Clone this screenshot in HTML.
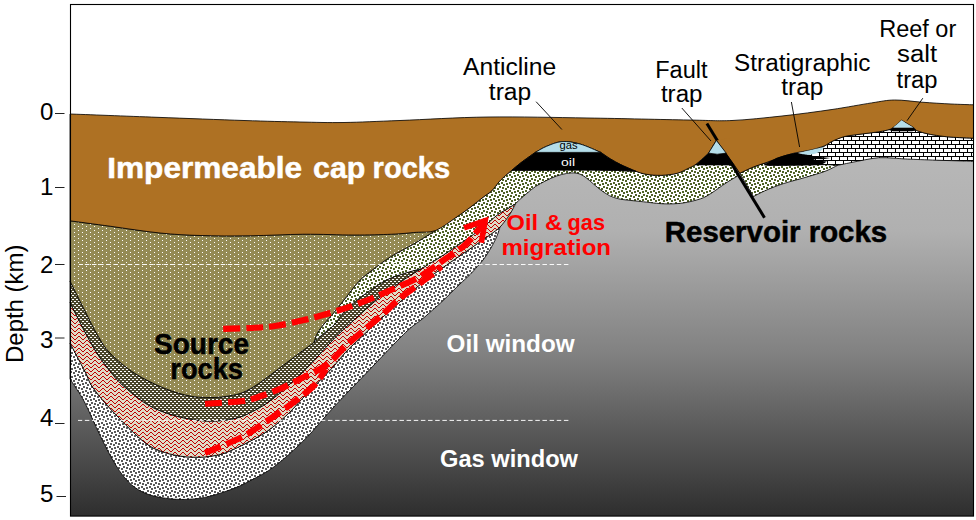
<!DOCTYPE html>
<html lang="en">
<head>
<meta charset="utf-8">
<title>Petroleum system cross-section</title>
<style>
html,body{margin:0;padding:0;background:#fff;}
body{width:976px;height:520px;overflow:hidden;}
svg{display:block;}
text{font-family:"Liberation Sans",sans-serif;}
.lbl{font-size:23px;fill:#000;}
.dg{font-size:23.4px;}
.b{font-weight:bold;}
.ol{stroke:#000;stroke-width:0.8;stroke-linejoin:round;}
</style>
</head>
<body>
<svg width="976" height="520" viewBox="0 0 976 520">
<defs>
<linearGradient id="gg" gradientUnits="userSpaceOnUse" x1="0" y1="110" x2="0" y2="516">
<stop offset="0" stop-color="#bcbcbc"/>
<stop offset="0.3" stop-color="#b0b0b0"/>
<stop offset="0.6" stop-color="#818181"/>
<stop offset="1" stop-color="#2e2e2e"/>
</linearGradient>
<pattern id="pdk" width="8" height="8" patternUnits="userSpaceOnUse" patternTransform="translate(0 1)"><rect width="8" height="8" fill="#fff"/><g fill="#595959" shape-rendering="crispEdges"><rect x="-1.00" y="-1.00" width="2.00" height="2.00"/><rect x="-1.00" y="7.00" width="2.00" height="2.00"/><rect x="7.00" y="-1.00" width="2.00" height="2.00"/><rect x="7.00" y="7.00" width="2.00" height="2.00"/><rect x="3.00" y="1.00" width="2.00" height="2.00"/><rect x="6.00" y="2.00" width="2.00" height="2.00"/><rect x="1.00" y="3.00" width="2.00" height="2.00"/><rect x="5.00" y="5.00" width="2.00" height="2.00"/><rect x="2.00" y="6.00" width="2.00" height="2.00"/></g></pattern>
<pattern id="pgr" width="8" height="8" patternUnits="userSpaceOnUse" patternTransform="translate(0 1)"><rect width="8" height="8" fill="#fff"/><g fill="#4f6228" shape-rendering="crispEdges"><rect x="-1.00" y="-1.00" width="2.00" height="2.00"/><rect x="-1.00" y="7.00" width="2.00" height="2.00"/><rect x="7.00" y="-1.00" width="2.00" height="2.00"/><rect x="7.00" y="7.00" width="2.00" height="2.00"/><rect x="3.00" y="1.00" width="2.00" height="2.00"/><rect x="6.00" y="2.00" width="2.00" height="2.00"/><rect x="1.00" y="3.00" width="2.00" height="2.00"/><rect x="5.00" y="5.00" width="2.00" height="2.00"/><rect x="2.00" y="6.00" width="2.00" height="2.00"/></g></pattern>
<!-- olive with white dots -->
<pattern id="pol" width="8" height="4" patternUnits="userSpaceOnUse" shape-rendering="crispEdges">
<rect width="8" height="4" fill="#948a54"/>
<rect x="2" y="0" width="1" height="1" fill="#fff"/><rect x="6" y="2" width="1" height="1" fill="#fff"/>
</pattern>
<!-- dark olive with white dashes -->
<pattern id="pdo" width="4" height="4" patternUnits="userSpaceOnUse" shape-rendering="crispEdges">
<rect width="4" height="4" fill="#4a452a"/>
<rect x="2" y="1" width="2" height="1" fill="#fff"/><rect x="0" y="3" width="2" height="1" fill="#fff"/>
</pattern>
<!-- red zigzag on tan -->
<pattern id="pzz" width="8" height="4" patternUnits="userSpaceOnUse" shape-rendering="crispEdges">
<rect width="8" height="4" fill="#dfdcc7"/>
<g fill="#c00000"><rect x="6" y="0" width="2" height="1"/><rect x="0" y="1" width="1" height="1"/><rect x="5" y="1" width="1" height="1"/><rect x="1" y="2" width="1" height="1"/><rect x="4" y="2" width="1" height="1"/><rect x="2" y="3" width="2" height="1"/></g>
</pattern>
<!-- brick -->
<pattern id="pbr" width="8" height="8" patternUnits="userSpaceOnUse" shape-rendering="crispEdges">
<rect width="8" height="8" fill="#fff"/>
<g fill="#000"><rect x="0" y="0" width="8" height="1"/><rect x="0" y="4" width="8" height="1"/><rect x="3" y="1" width="1" height="3"/><rect x="7" y="5" width="1" height="3"/></g>
</pattern>
</defs>

<rect x="0" y="0" width="976" height="520" fill="#fff"/>
<!-- ground gradient -->
<path d="M70 114C84.5 114.5 128 116.2 157 117.3C186 118.4 220.2 119.7 244 120.5C267.8 121.3 283.3 121.7 300 122C316.7 122.3 327.3 122.8 344 122.5C360.7 122.2 376 121.4 400 120.5C424 119.6 456.7 117.4 488 117C519.3 116.6 554.7 117.5 588 118C621.3 118.5 664 119.6 688 120C712 120.4 716.3 121.2 732 120.5C747.7 119.8 765.3 117.8 782 116C798.7 114.2 817.1 111.7 832 109.5C846.9 107.3 861.1 104.5 871.6 102.9C882.1 101.3 886.3 100.1 894.7 100C903.1 99.9 912.6 101.5 922 102.2C931.4 102.9 942.4 103.6 951 104C959.6 104.4 969.8 104.7 973.5 104.8L973.5 516.1L70 516.1Z" fill="url(#gg)"/>
<!-- basin layers -->
<path class="ol" d="M70 379C71 380.5 73.5 384 76 388C78.5 392 81.4 396 85 403C88.6 410 93.3 421.3 97.5 430C101.7 438.7 105.8 447.5 110 455C114.2 462.5 118.3 469.6 122.5 475C126.7 480.4 130.4 484.2 135 487.5C139.6 490.8 144.2 493.1 150 495C155.8 496.9 163.3 498 170 498.8C176.7 499.5 183.3 499.7 190 499.2C196.7 498.8 202.5 498.1 210 496.2C217.5 494.4 228.3 490.6 235 488C241.7 485.4 244.3 483.8 250 480.8C255.7 477.8 262.8 474.5 269.2 470.2C275.6 465.9 282.1 460.4 288.5 454.8C294.9 449.2 301.9 442.4 307.7 436.5C313.4 430.6 317.6 425.3 323 419.2C328.4 413.1 333.7 407.1 340.4 400C347.1 392.9 356.1 383.8 363.1 376.5C370.1 369.2 376.2 362.7 382.3 356.3C388.4 349.9 395.2 342.8 400 338C404.8 333.2 407.3 330.7 411 327.5C414.7 324.3 417.9 322.7 422.3 319C426.8 315.3 433.5 309.2 437.7 305.5C441.9 301.8 443.6 300.1 447.3 296.5C451 292.9 456.1 287.7 460 284C463.9 280.3 467.5 277.1 470.4 274.2C473.2 271.3 475.1 269.1 477.1 266.8C479.1 264.6 480.7 263 482.5 260.7C484.3 258.4 486.1 255.8 487.9 253C489.7 250.2 491.6 246.9 493.2 243.9C494.8 240.9 496.2 238 497.3 235.2C498.4 232.4 499.6 228.4 500 227.1L500 227.1C498.4 228.3 494.3 231.7 490.5 234.5C486.7 237.3 481.6 240.8 477.1 243.9C472.6 247 468.1 250.2 463.6 253.3C459.1 256.4 454.7 259.4 450.2 262.5C445.7 265.6 440.4 269.4 436.7 272C433 274.6 431 275.9 428 278.2C425 280.5 421.7 283.3 418.5 285.9C415.3 288.5 412 291.2 408.8 294C405.6 296.8 402.4 299.9 399.2 302.7C396 305.5 393.4 307.6 389.6 311C385.8 314.4 381 318.7 376.2 323.1C371.4 327.5 365.9 332.6 360.8 337.5C355.7 342.4 350 347.6 345.4 352.5C340.8 357.4 337.6 361.9 333 367C328.4 372.1 322.8 377.5 317.5 383C312.2 388.5 305.8 394.9 301 400C296.2 405.1 293.8 408.5 288.5 413.5C283.2 418.5 275.6 425.2 269.2 429.8C262.8 434.4 257.4 437.4 250 441.3C242.6 445.2 231.7 450.5 225 453C218.3 455.5 214.3 455.6 210 456.3C205.7 457 203 457.1 199.2 457.2C195.3 457.3 191 457.2 186.9 456.9C182.8 456.5 178.7 456 174.6 455.1C170.5 454.2 166.4 453.2 162.3 451.7C158.2 450.2 154.6 449.1 150 446.2C145.4 443.2 141.7 440.3 135 434C128.3 427.7 117.1 416.3 110 408.5C102.9 400.7 96.7 393.2 92.5 387C88.3 380.8 88.8 378.8 85 371.5C81.2 364.2 72.5 347.8 70 343Z" fill="url(#pdk)"/>
<path class="ol" d="M70 343C72.5 347.8 81.2 364.2 85 371.5C88.8 378.8 88.3 380.8 92.5 387C96.7 393.2 102.9 400.7 110 408.5C117.1 416.3 128.3 427.7 135 434C141.7 440.3 145.4 443.2 150 446.2C154.6 449.1 158.2 450.2 162.3 451.7C166.4 453.2 170.5 454.2 174.6 455.1C178.7 456 182.8 456.5 186.9 456.9C191 457.2 195.3 457.3 199.2 457.2C203 457.1 205.7 457 210 456.3C214.3 455.6 218.3 455.5 225 453C231.7 450.5 242.6 445.2 250 441.3C257.4 437.4 262.8 434.4 269.2 429.8C275.6 425.2 283.2 418.5 288.5 413.5C293.8 408.5 296.2 405.1 301 400C305.8 394.9 312.2 388.5 317.5 383C322.8 377.5 328.4 372.1 333 367C337.6 361.9 340.8 357.4 345.4 352.5C350 347.6 355.7 342.4 360.8 337.5C365.9 332.6 371.4 327.5 376.2 323.1C381 318.7 385.8 314.4 389.6 311C393.4 307.6 396 305.5 399.2 302.7C402.4 299.9 405.6 296.8 408.8 294C412 291.2 415.3 288.5 418.5 285.9C421.7 283.3 425 280.5 428 278.2C431 275.9 433 274.6 436.7 272C440.4 269.4 445.7 265.6 450.2 262.5C454.7 259.4 459.1 256.4 463.6 253.3C468.1 250.2 472.6 247 477.1 243.9C481.6 240.8 486.7 237.3 490.5 234.5C494.3 231.7 496.9 230.3 500 227.1C503.1 223.8 506.8 218.8 509.4 215C511.9 211.2 514.3 206.2 515.3 204.4L515.3 203.9C514 204.7 510.4 206.9 507.3 208.8C504.2 210.7 501.3 211.9 497 215.2C492.7 218.5 486.9 224.3 481.5 228.5C476.1 232.7 471 236.1 464.6 240.5C458.2 244.9 450.6 250.3 443.4 255C436.2 259.7 425.1 266.3 421.5 268.6L421.5 268.6C419.4 269.9 412.5 273.9 408.8 276.3C405.1 278.7 404 279.6 399.2 283C394.4 286.4 387.4 291 380 297C372.6 303 362.5 312.2 355 319C347.5 325.8 341.4 331.1 335 337.5C328.6 343.9 323.1 350.7 316.9 357.3C310.7 363.9 302.2 372.6 297.7 377C293.2 381.4 293.4 380.8 290 383.8C286.6 386.8 281.7 391.6 277.5 395C273.3 398.4 269.2 401.6 265 404.4C260.8 407.1 256.7 409.4 252.5 411.5C248.3 413.6 245 415.5 240 417C235 418.5 229.2 419.9 222.5 420.5C215.8 421.1 208.3 421.4 200 420.5C191.7 419.6 181.2 417.7 172.5 415C163.8 412.3 155.8 409.5 147.5 404.5C139.2 399.5 128.8 390.6 122.5 385C116.2 379.4 114.2 376.2 110 371C105.8 365.8 101.7 360.5 97.5 354C93.3 347.5 89.6 340.6 85 332C80.4 323.4 72.5 307.4 70 302.5Z" fill="url(#pzz)"/>
<path class="ol" d="M70 302.5C72.5 307.4 80.4 323.4 85 332C89.6 340.6 93.3 347.5 97.5 354C101.7 360.5 105.8 365.8 110 371C114.2 376.2 116.2 379.4 122.5 385C128.8 390.6 139.2 399.5 147.5 404.5C155.8 409.5 163.8 412.3 172.5 415C181.2 417.7 191.7 419.6 200 420.5C208.3 421.4 215.8 421.1 222.5 420.5C229.2 419.9 235 418.5 240 417C245 415.5 248.3 413.6 252.5 411.5C256.7 409.4 260.8 407.1 265 404.4C269.2 401.6 273.3 398.4 277.5 395C281.7 391.6 286.6 386.8 290 383.8C293.4 380.8 293.2 381.4 297.7 377C302.2 372.6 310.7 363.9 316.9 357.3C323.1 350.7 328.6 343.9 335 337.5C341.4 331.1 347.5 325.8 355 319C362.5 312.2 372.6 303 380 297C387.4 291 394.4 286.4 399.2 283C404 279.6 405.1 278.7 408.8 276.3C412.5 273.9 419.4 269.9 421.5 268.6L421.5 268.6C418.6 269.4 409.8 271.6 404 273.5C398.2 275.4 392.3 277 386.5 280C380.7 283 374.4 287.5 369 291.2C363.6 295 358.6 298.5 354 302.5C349.4 306.5 344.8 311.2 341.5 315C338.2 318.8 337.2 321.8 334 325C330.8 328.2 325.9 331.6 322.5 334.5C319.1 337.4 315.2 341.2 313.8 342.5L313.8 342.5C311.1 344.5 303.6 350 297.7 354.4C291.8 358.8 283.9 364.7 278.5 368.8C273.1 372.9 269.3 375.9 265 379C260.7 382.1 256.7 385.1 252.5 387.5C248.3 389.9 244.6 392 240 393.5C235.4 395 230 395.8 225 396.5C220 397.2 215.8 397.6 210 397.5C204.2 397.4 197.5 397.5 190 396C182.5 394.5 174.2 392.2 165 388.5C155.8 384.8 144.2 379.4 135 373.5C125.8 367.6 116.2 359.4 110 353C103.8 346.6 101.7 342 97.5 335C93.3 328 89.6 320 85 311C80.4 302 72.5 286 70 281Z" fill="url(#pdo)"/>
<path class="ol" d="M313.8 342.5C315.2 341.2 319.1 337.4 322.5 334.5C325.9 331.6 330.8 328.2 334 325C337.2 321.8 338.2 318.8 341.5 315C344.8 311.2 349.4 306.5 354 302.5C358.6 298.5 363.6 295 369 291.2C374.4 287.5 380.7 283 386.5 280C392.3 277 398.2 275.4 404 273.5C409.8 271.6 418.6 269.4 421.5 268.6L421.5 268.6C425.1 266.3 436.2 259.7 443.4 255C450.6 250.3 458.2 244.9 464.6 240.5C471 236.1 476.1 232.7 481.5 228.5C486.9 224.3 492.7 218.5 497 215.2C501.3 211.9 504.2 210.7 507.3 208.8C510.4 206.9 514 204.7 515.3 203.9L515.3 203.9C516 203.2 517.8 201.3 519.8 199.5C521.8 197.7 524.5 195.4 527.1 193.2C529.8 191 532.6 188.4 535.7 186.4C538.8 184.4 542.1 182.6 545.6 180.9C549.1 179.2 553.1 177.2 556.6 176C560.1 174.8 563.6 174 566.5 173.5C569.4 173 571.6 172.8 573.9 172.9C576.1 173 578 173.3 580 174.1C582 174.9 584 176.2 586.2 177.8C588.5 179.5 591 181.9 593.5 184C596 186.1 598.2 188.2 600.9 190.1C603.6 192 606.6 194.3 609.5 195.7C612.4 197.1 615.3 198 618.1 198.7C620.9 199.4 623.2 199.6 626.5 200C629.8 200.4 631.9 200.6 638 201.2C644.1 201.8 655.5 203.4 663 203.8C670.5 204.1 676.8 203.8 683 203C689.2 202.2 695.8 200.3 700.5 198.8C705.2 197.2 706.8 196 711 193.4C715.2 190.8 721.6 185.9 726 183C730.4 180.1 735.4 177.3 737.3 176.2L734.1 165L695 164.9L695 164.9C693.8 165.5 691 167.1 688 168.5C685 169.9 681.5 172.2 677.1 173.3C672.7 174.4 666.8 175.1 661.7 175.3C656.6 175.5 650.7 175 646.4 174.3C642.1 173.6 637.8 171.8 636.1 171.3L636.1 171.3C631.8 171.1 619.8 170.5 610 170.3C600.2 170.1 588.3 170 577.5 170C566.7 170 556 170.1 545 170.2C534 170.2 517.3 170.3 511.8 170.3L511.8 170.3C510.8 171.2 507.7 173.6 505.6 175.5C503.5 177.4 501.6 179.1 499.2 181.7C496.8 184.3 494.1 188.5 491.5 191C488.9 193.5 487.3 194 483.8 196.7C480.3 199.4 474.9 203.8 470.4 207.2C465.9 210.5 462.7 212.9 456.9 216.8C451.1 220.7 439.3 228.1 435.8 230.4L435.8 230.4C432.2 232.6 421.4 239.4 414 243.8C406.6 248.1 398.2 252.1 391.5 256.2C384.8 260.4 379.4 264.6 374 268.8C368.6 272.9 364 276 359 281.2C354 286.5 348.2 294.8 344 300C339.8 305.2 337.3 308.5 334 312.5C330.7 316.5 326.8 320.6 324 324C321.2 327.4 319.2 329.9 317.5 333C315.8 336.1 314.4 340.9 313.8 342.5Z" fill="url(#pgr)"/>
<path class="ol" d="M753.5 196.5C755.6 195.4 761.2 192.4 766.2 190.2C771.2 188 777.3 185.6 783.8 183.5C790.3 181.4 798.3 179.5 805 177.5C811.7 175.5 818.5 173.7 824 171.7C829.5 169.7 835.4 166.4 837.7 165.3L837.7 165.3C835.8 165.1 832.3 164.4 826 164.3C819.7 164.2 809.3 164.8 800 165C790.7 165.2 776 165.7 770 165.5C764 165.3 765 164 764 163.7L766.2 162.6C764.1 163.3 757.9 165.1 753.5 166.9C749.1 168.7 742.1 172.1 739.8 173.2L739.8 173.2Z" fill="url(#pgr)"/>
<path class="ol" d="M70 281C72.5 286 80.4 302 85 311C89.6 320 93.3 328 97.5 335C101.7 342 103.8 346.6 110 353C116.2 359.4 125.8 367.6 135 373.5C144.2 379.4 155.8 384.8 165 388.5C174.2 392.2 182.5 394.5 190 396C197.5 397.5 204.2 397.4 210 397.5C215.8 397.6 220 397.2 225 396.5C230 395.8 235.4 395 240 393.5C244.6 392 248.3 389.9 252.5 387.5C256.7 385.1 260.7 382.1 265 379C269.3 375.9 273.1 372.9 278.5 368.8C283.9 364.7 291.8 358.8 297.7 354.4C303.6 350 311.1 344.5 313.8 342.5L313.8 342.5C314.4 340.9 315.8 336.1 317.5 333C319.2 329.9 321.2 327.4 324 324C326.8 320.6 330.7 316.5 334 312.5C337.3 308.5 339.8 305.2 344 300C348.2 294.8 354 286.5 359 281.2C364 276 368.6 272.9 374 268.8C379.4 264.6 384.8 260.4 391.5 256.2C398.2 252.1 406.6 248.1 414 243.8C421.4 239.4 432.2 232.6 435.8 230.4L435.8 230.4C432.6 230.7 423.9 231.7 416.5 232.3C409.1 232.9 401.9 233.8 391.5 234.2C381.1 234.7 368.6 235 354 235C339.4 235 321.3 234.1 304 234.2C286.7 234.4 267.3 235.5 250 235.8C232.7 236 215 236 200 235.5C185 235 175 234.5 160 233C145 231.5 125 228.3 110 226.2C95 224.2 76.7 221.7 70 220.8Z" fill="url(#pol)"/>
<path class="ol" d="M822.9 147.2C824.4 146.2 828.5 143.2 832 141.4C835.5 139.7 839.8 137.8 844 136.7C848.2 135.6 851.2 135.4 857 134.6C862.8 133.8 873.5 132.6 878.8 131.8C884.1 131 887.3 130 889 129.6L902 129L916.3 130.3C917.8 130.8 921.6 132.3 925 133.2C928.4 134 932.2 134.8 936.5 135.4C940.8 136.1 944.8 136.6 951 137.1C957.2 137.6 969.8 138 973.5 138.2L973.5 161.3C967.3 161.1 947.5 160.6 936.5 160.2C925.5 159.8 914.9 159.4 907.7 159.1C900.5 158.8 898 158.3 893.2 158.1C888.4 157.9 883.6 157.4 878.8 157.7C874 158 869.2 159.1 864.4 159.9C859.6 160.8 854.5 161.9 850 162.8C845.5 163.7 839.8 164.9 837.7 165.3L826 164.6L808 165L806 152Z" fill="url(#pbr)"/>
<!-- cap rock -->
<path class="ol" d="M70 114C84.5 114.5 128 116.2 157 117.3C186 118.4 220.2 119.7 244 120.5C267.8 121.3 283.3 121.7 300 122C316.7 122.3 327.3 122.8 344 122.5C360.7 122.2 376 121.4 400 120.5C424 119.6 456.7 117.4 488 117C519.3 116.6 554.7 117.5 588 118C621.3 118.5 664 119.6 688 120C712 120.4 716.3 121.2 732 120.5C747.7 119.8 765.3 117.8 782 116C798.7 114.2 817.1 111.7 832 109.5C846.9 107.3 861.1 104.5 871.6 102.9C882.1 101.3 886.3 100.1 894.7 100C903.1 99.9 912.6 101.5 922 102.2C931.4 102.9 942.4 103.6 951 104C959.6 104.4 969.8 104.7 973.5 104.8L973.5 138.2C969.8 138 957.2 137.6 951 137.1C944.8 136.6 940.8 136.1 936.5 135.4C932.2 134.8 928.4 134 925 133.2C921.6 132.3 918.2 131.3 916.3 130.3C914.4 129.3 915.8 129.1 913.4 127.4C911 125.7 903.6 121.4 901.6 120.2L901.6 120.2C900.2 121.4 895.3 125.8 893.2 127.4C891.1 129 891.4 128.9 889 129.6C886.6 130.3 884.1 131 878.8 131.8C873.5 132.6 862.8 133.8 857 134.6C851.2 135.4 848.2 135.6 844 136.7C839.8 137.8 835.3 139.8 832 141.4C828.7 143 827.5 144.6 824 146C820.5 147.4 815.6 148.8 810.7 150C805.8 151.2 799.7 151.8 794.6 153C789.5 154.2 784.7 155.8 780 157.4C775.3 159 770.6 161 766.2 162.6C761.8 164.2 757.9 165.1 753.5 166.9C749.1 168.7 742.1 172.1 739.8 173.2L716.4 140.4C715.8 141.4 713.8 144.5 712.5 146.6C711.2 148.7 710.3 151 708.5 153.1C706.7 155.2 704 157.4 701.7 159.4C699.5 161.4 697.3 163.4 695 164.9C692.7 166.4 691 167.1 688 168.5C685 169.9 681.5 172.2 677.1 173.3C672.7 174.4 666.8 175.1 661.7 175.3C656.6 175.5 650.7 175 646.4 174.3C642.1 173.6 638.7 172.2 636.1 171.3C633.5 170.5 633.6 170.3 631 169.2C628.4 168.1 624.1 166.3 620.7 164.6C617.3 162.9 613.8 161 610.5 159C607.2 157 602.4 153.5 600.8 152.4L600.8 152.4C597.3 151 586.5 145.8 580 144C573.5 142.2 567.6 141.2 562 141.6C556.4 142 551.1 144.5 546.6 146.3C542.1 148.1 537.2 151.4 535.3 152.4L535.3 152.4C532.9 154.1 524.9 159.7 521 162.7C517.1 165.7 514.4 168.2 511.8 170.3C509.2 172.4 507.7 173.6 505.6 175.5C503.5 177.4 501.6 179.1 499.2 181.7C496.8 184.3 494.1 188.5 491.5 191C488.9 193.5 487.3 194 483.8 196.7C480.3 199.4 474.9 203.8 470.4 207.2C465.9 210.5 462.7 212.9 456.9 216.8C451.1 220.7 442.5 227.8 435.8 230.4C429.1 233 423.9 231.7 416.5 232.3C409.1 232.9 401.9 233.8 391.5 234.2C381.1 234.7 368.6 235 354 235C339.4 235 321.3 234.1 304 234.2C286.7 234.4 267.3 235.5 250 235.8C232.7 236 215 236 200 235.5C185 235 175 234.5 160 233C145 231.5 125 228.3 110 226.2C95 224.2 76.7 221.7 70 220.8Z" fill="#ae7123"/>
<!-- fault -->
<line x1="706.9" y1="123.5" x2="764.5" y2="217.7" stroke="#000" stroke-width="3"/>
<path d="M716.4 140.4L734.3 165L739.8 173.2L739.8 173.2C742.1 172.1 749.1 168.7 753.5 166.9C757.9 165.1 761.8 164.2 766.2 162.6C770.6 161 777.7 158.3 780 157.4L780 138L730 138Z" fill="#ae7123"/>
<path d="M716.4 140.4L734.3 165L739.8 173.2C742.1 172.1 749.1 168.7 753.5 166.9C757.9 165.1 761.8 164.2 766.2 162.6C770.6 161 777.7 158.3 780 157.4" fill="none" class="ol"/>
<!-- traps -->
<path class="ol" d="M511.8 170.3C513.3 169 517.1 165.7 521 162.7C524.9 159.7 532.9 154.1 535.3 152.4L600.8 152.4C602.4 153.5 607.2 157 610.5 159C613.8 161 617.3 162.9 620.7 164.6C624.1 166.3 628.4 168.1 631 169.2C633.6 170.3 635.2 171 636.1 171.3L636.1 171.3C631.8 171.1 619.8 170.5 610 170.3C600.2 170.1 588.3 170 577.5 170C566.7 170 556 170.1 545 170.2C534 170.2 517.3 170.3 511.8 170.3Z" fill="#000"/>
<path class="ol" d="M535.3 152.4C537.2 151.4 542.1 148.1 546.6 146.3C551.1 144.5 556.4 142 562 141.6C567.6 141.2 573.5 142.2 580 144C586.5 145.8 597.3 151 600.8 152.4Z" fill="#b4dde9"/>
<path d="M695 165.1C696.1 164.2 699.5 161.4 701.7 159.4C704 157.4 707.4 154.2 708.5 153.1L717 154.3L726.2 153.1L734.3 165.1Z" fill="#000"/>
<path class="ol" d="M716.4 140.4L708.5 153.1Q717 155.4 726.2 153.1Z" fill="#b4dde9"/>
<path d="M763.6 164.9C765.4 163.9 771 160.5 774.4 158.9C777.8 157.3 780.4 156.6 783.8 155.6C787.2 154.6 791.9 153.5 794.6 153.1C797.3 152.7 799.1 153.3 800 153.4L810.8 154.9C811.2 155.1 813 156 813.4 156.2L830.3 158L822.9 159.2L813.4 159L816 160.3L826.9 161.6L824.2 163.2L821.5 164.6L810.8 165.2C806.3 165.3 791.7 165.6 783.8 165.6C775.9 165.6 767 165.4 763.6 165.3Z" fill="#000"/>
<path d="M798.6 153.1C800.6 152.6 806.7 151 810.7 150C814.8 149 820.9 147.7 822.9 147.2L823.2 148.8C822.5 149.4 820.9 151.2 818.8 152.2C816.7 153.2 813.5 154.3 810.8 154.6C808.1 154.9 804.7 154.4 802.7 154.2C800.7 153.9 799.3 153.3 798.6 153.1Z" fill="#b4dde9"/>
<path d="M893.2 127.4L889 129.9L893 131.2L912 131.2L916.3 130.3L913.4 127.4Z" fill="#000"/>
<path d="M901.6 120.2Q897 124.5 893.2 127.4L913.4 127.4Q906.5 124 901.6 120.2Z" fill="#b4dde9"/>

<!-- depth window dashed lines -->
<line x1="568.4" y1="264.5" x2="79" y2="264.5" stroke="#fff" stroke-width="0.95" stroke-dasharray="4.5 2.65"/>
<line x1="568.4" y1="420.4" x2="78" y2="420.4" stroke="#fff" stroke-width="0.95" stroke-dasharray="4.5 2.65"/>

<!-- migration arrows -->
<g fill="none" stroke="#ff0000" stroke-width="6.2">
<path d="M223.2 328.8C227.7 328.6 241.4 328.5 250 328C258.6 327.5 266 327.3 275 326C284 324.7 294.8 322.2 304 320C313.2 317.8 322.5 315.2 330 313C337.5 310.8 342.3 309.3 349.2 306.9C356.1 304.5 364.4 301.4 371.5 298.5C378.6 295.6 384.8 292.6 392 289.5C399.2 286.4 408.3 282.9 414.6 279.6C420.9 276.4 425.2 273.2 430 270C434.8 266.8 437.6 264.3 443.4 260.2C449.2 256.1 458.7 250.6 464.6 245.4C470.5 240.2 475.6 233.1 479 229C482.4 224.9 484.2 222.1 485.2 220.7" stroke-dasharray="17 6"/>
<path d="M205 403.8C211.3 403.3 233.7 402.3 243 401C252.3 399.7 254.3 398.2 261 396C267.7 393.8 275.8 390.7 283 387.5C290.2 384.3 297.8 380.1 304 377C310.2 373.9 315.4 371.7 320 369C324.6 366.3 327.3 364.6 331.5 360.8C335.7 357 340.1 351.2 345.4 346.2C350.7 341.2 357.1 335.9 363.1 330.8C369.1 325.7 375.5 320.7 381.5 315.4C387.5 310.1 393 304.2 399.2 299C405.4 293.8 412.7 288.8 418.5 284.4C424.3 280 430.1 275.9 433.8 272.9C437.6 269.9 439.8 267.6 441 266.5" stroke-dasharray="17 6"/>
<path d="M205 453C210.8 450.5 231.5 442.1 240 438C248.5 433.9 249.9 432.4 256 428.5C262.1 424.6 269.7 419.2 276.4 414.5C283.1 409.8 289.6 405.4 296 400.5C302.4 395.6 309.5 390.2 314.5 385C319.5 379.8 324.1 371.7 326 369" stroke-dasharray="17 6"/>
<path d="M464 227.9L485.2 220.7L481.3 242.8" stroke-width="5.6" stroke-linejoin="miter" stroke-miterlimit="10"/>
</g>

<!-- frame -->
<rect x="70.5" y="4.5" width="903" height="511.6" fill="none" stroke="#000" stroke-width="1.1"/>

<!-- axis -->
<g stroke="#222" stroke-width="1">
<line x1="55" y1="113.5" x2="64.5" y2="113.5"/>
<line x1="55" y1="187.5" x2="64.5" y2="187.5"/>
<line x1="55" y1="264.5" x2="64.5" y2="264.5"/>
<line x1="55" y1="338" x2="64.5" y2="338"/>
<line x1="55" y1="423.5" x2="64.5" y2="423.5"/>
<line x1="56.5" y1="496.5" x2="66" y2="496.5"/>
</g>
<g class="lbl">
<text x="40.1" y="119.6" textLength="13.4" class="dg" lengthAdjust="spacingAndGlyphs">0</text>
<text x="40.1" y="195.2" textLength="13.4" class="dg" lengthAdjust="spacingAndGlyphs">1</text>
<text x="40.1" y="272.7" textLength="13.4" class="dg" lengthAdjust="spacingAndGlyphs">2</text>
<text x="40.1" y="347.8" textLength="13.4" class="dg" lengthAdjust="spacingAndGlyphs">3</text>
<text x="40.1" y="425.8" textLength="13.4" class="dg" lengthAdjust="spacingAndGlyphs">4</text>
<text x="40.1" y="501.7" textLength="13.4" class="dg" lengthAdjust="spacingAndGlyphs">5</text>
<text transform="translate(23.4 363) rotate(-90)" x="0" y="0" font-size="24.6" textLength="118.5" lengthAdjust="spacingAndGlyphs">Depth (km)</text>

<text x="463" y="74.8" textLength="93.2" lengthAdjust="spacingAndGlyphs">Anticline</text>
<text x="488.8" y="100.1" textLength="42.4" lengthAdjust="spacingAndGlyphs">trap</text>
<text x="655.2" y="77.7" textLength="52.3" lengthAdjust="spacingAndGlyphs">Fault</text>
<text x="660.9" y="102.1" textLength="41.6" lengthAdjust="spacingAndGlyphs">trap</text>
<text x="734.1" y="70.5" textLength="136.4" lengthAdjust="spacingAndGlyphs">Stratigraphic</text>
<text x="781.3" y="95.2" textLength="42.1" lengthAdjust="spacingAndGlyphs">trap</text>
<text x="879.2" y="37" textLength="77.1" lengthAdjust="spacingAndGlyphs">Reef or</text>
<text x="897" y="62.3" textLength="40.1" lengthAdjust="spacingAndGlyphs">salt</text>
<text x="896.6" y="87.7" textLength="41" lengthAdjust="spacingAndGlyphs">trap</text>
</g>
<!-- leaders -->
<g stroke="#000" stroke-width="0.9">
<line x1="536.1" y1="101.7" x2="561.9" y2="129.5"/>
<line x1="681.8" y1="108" x2="711" y2="141"/>
<line x1="791.4" y1="102" x2="799.6" y2="147"/>
<line x1="922.8" y1="98.2" x2="907" y2="120.7"/>
</g>

<!-- big labels -->
<g class="b" stroke-width="0.5" stroke-linejoin="round">
<text x="107.2" y="178" font-size="30" fill="#fff" stroke="#fff" textLength="195" lengthAdjust="spacingAndGlyphs">Impermeable</text>
<text x="313" y="178" font-size="30" fill="#fff" stroke="#fff" textLength="52.4" lengthAdjust="spacingAndGlyphs">cap</text>
<text x="372.6" y="178" font-size="30" fill="#fff" stroke="#fff" textLength="77.6" lengthAdjust="spacingAndGlyphs">rocks</text>
<text x="664.8" y="241.6" font-size="28.8" fill="#000" stroke="#000" textLength="222.4" lengthAdjust="spacingAndGlyphs">Reservoir rocks</text>
<text x="154" y="353.75" font-size="28.8" fill="#000" stroke="#000" textLength="95" lengthAdjust="spacingAndGlyphs">Source</text>
<text x="170.3" y="379.2" font-size="28.8" fill="#000" stroke="#000" textLength="72.7" lengthAdjust="spacingAndGlyphs">rocks</text>
<text y="230" font-size="22.5" fill="#ff0000"><tspan x="506.6" textLength="31.5" lengthAdjust="spacingAndGlyphs">Oil</tspan> <tspan x="544.9" textLength="17.3" lengthAdjust="spacingAndGlyphs">&amp;</tspan> <tspan x="567.6" textLength="37.4" lengthAdjust="spacingAndGlyphs">gas</tspan></text>
<text x="501.4" y="255" font-size="22.5" fill="#ff0000" textLength="109.7" lengthAdjust="spacingAndGlyphs">migration</text>
<text x="446.6" y="352.3" font-size="24" fill="#fff" textLength="128" lengthAdjust="spacingAndGlyphs">Oil window</text>
<text x="440" y="466.8" font-size="24" fill="#fff" textLength="138" lengthAdjust="spacingAndGlyphs">Gas window</text>
</g>
<text x="559.5" y="149.4" font-size="11.5" fill="#000" textLength="18" lengthAdjust="spacingAndGlyphs">gas</text>
<text x="561" y="165.6" font-size="11.5" fill="#fff" textLength="14" lengthAdjust="spacingAndGlyphs">oil</text>
</svg>
</body>
</html>
